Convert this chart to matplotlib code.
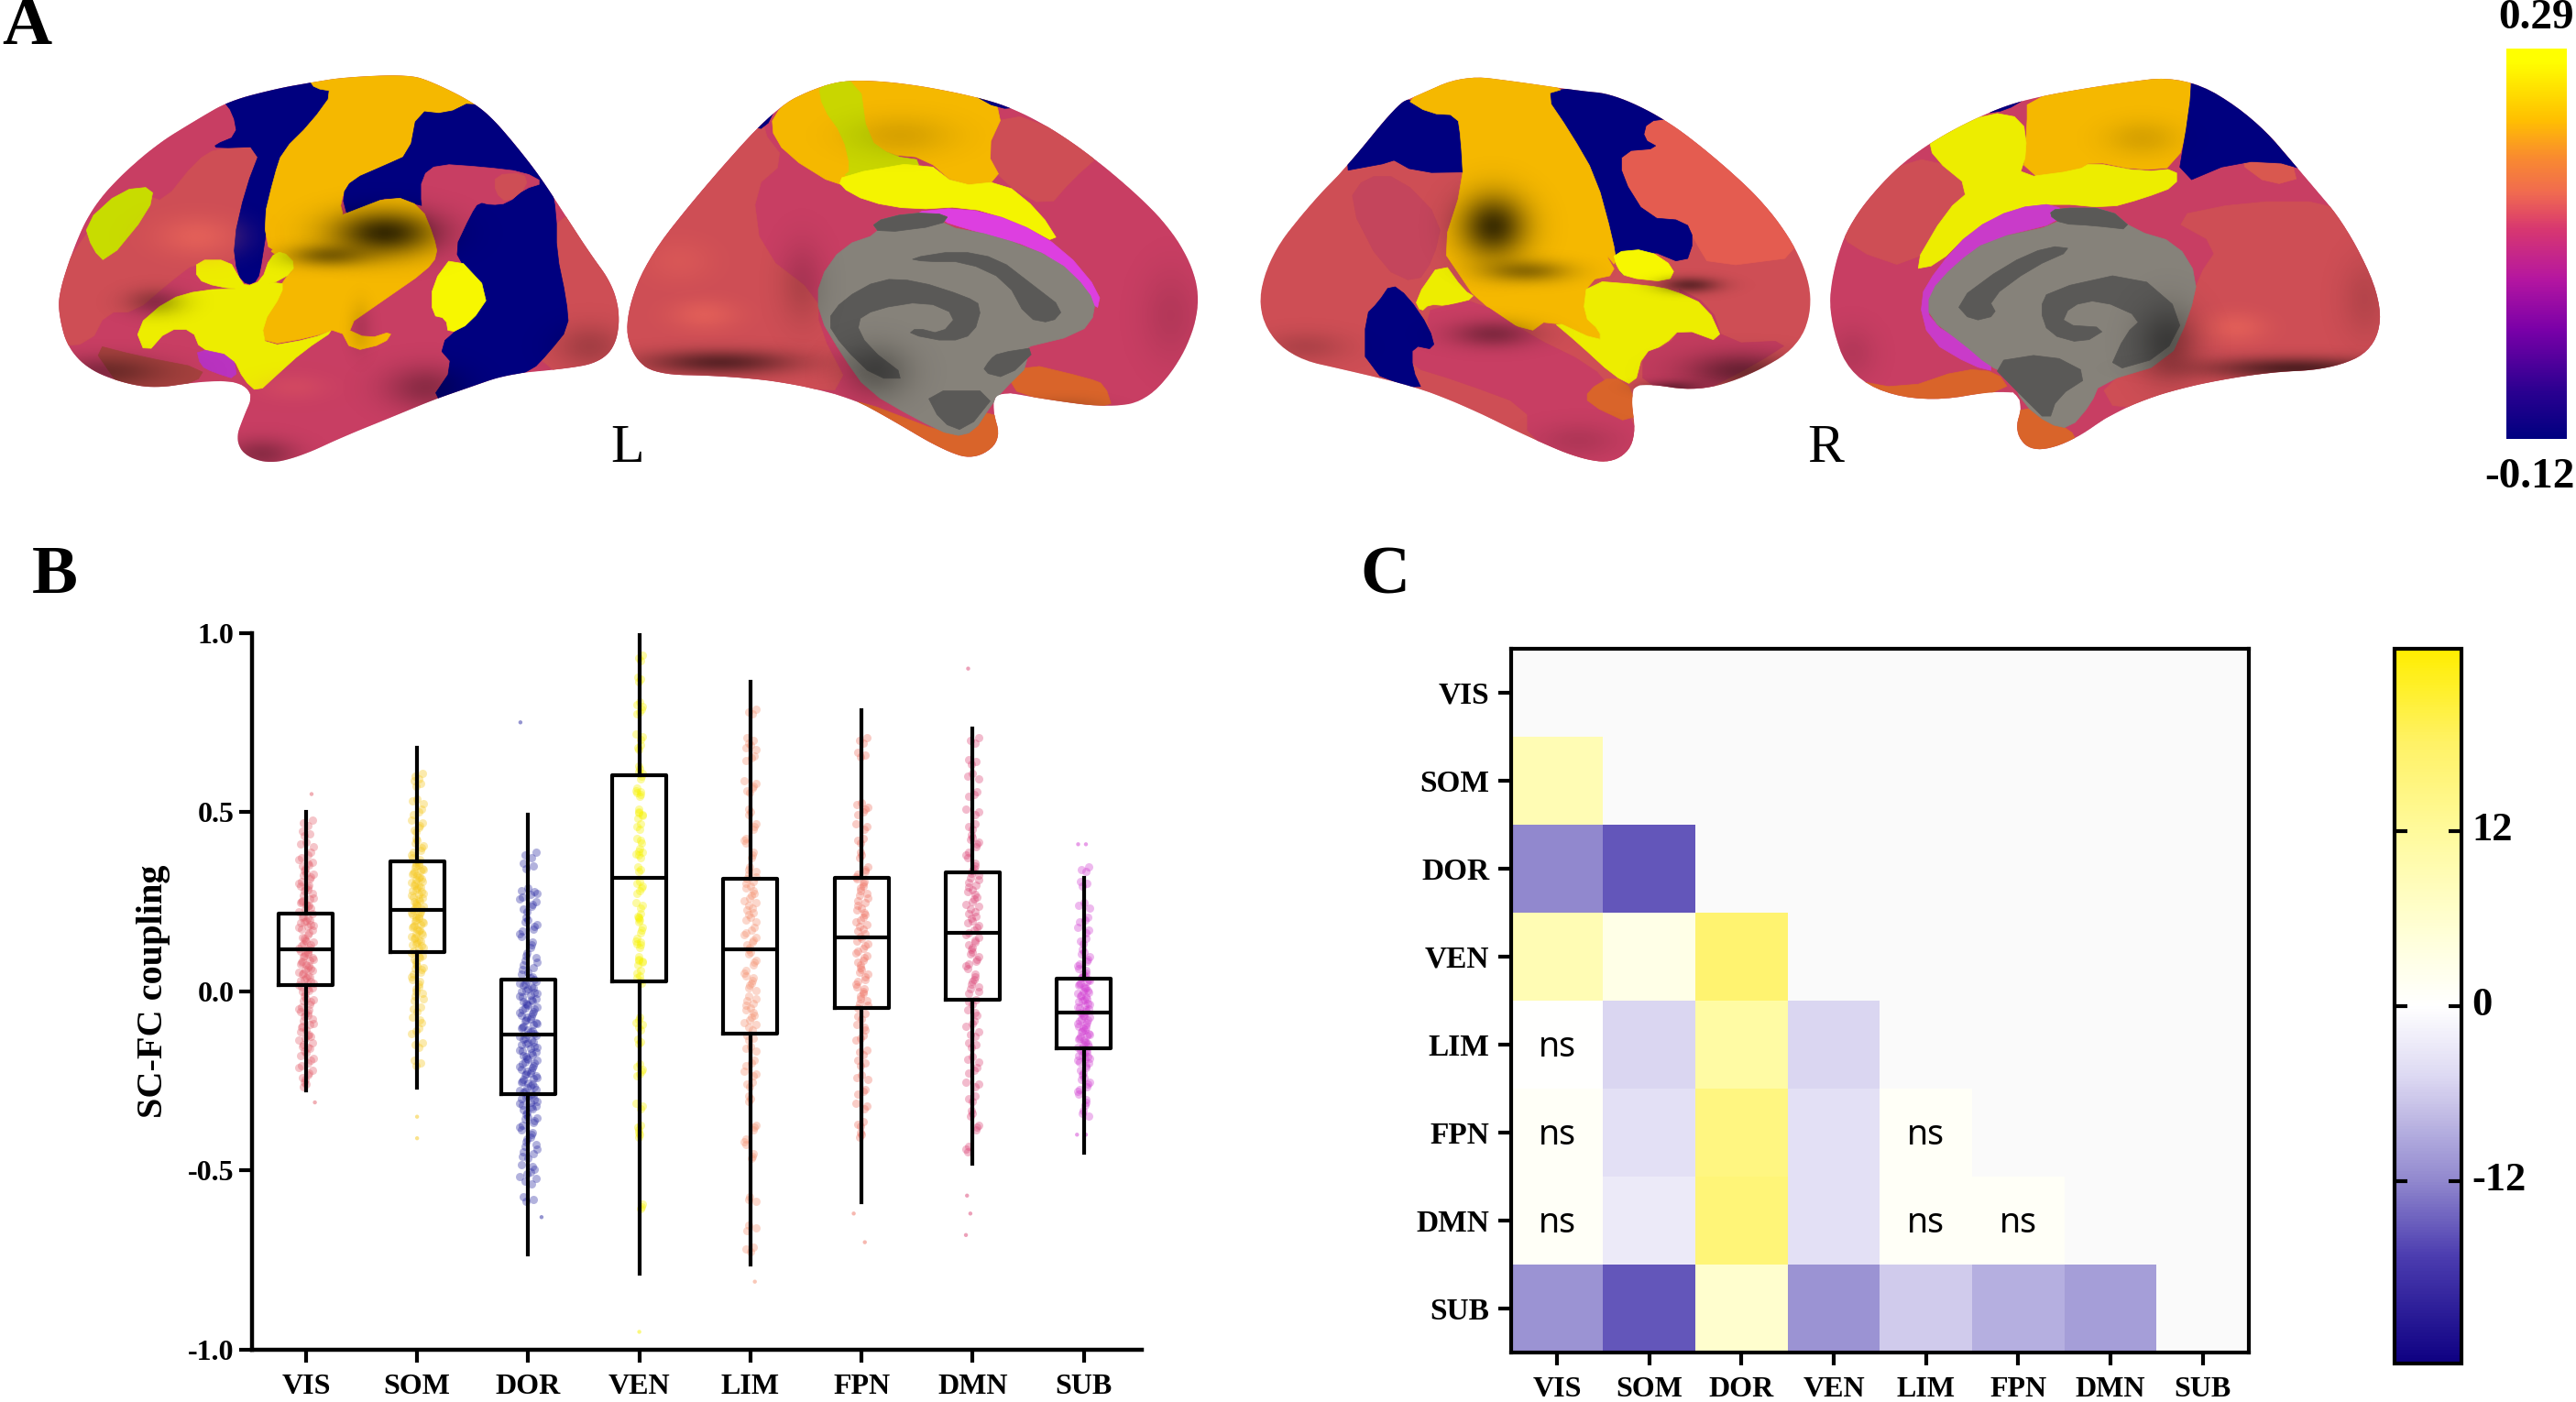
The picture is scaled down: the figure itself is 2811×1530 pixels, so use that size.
import matplotlib
matplotlib.use('Agg')
import matplotlib.pyplot as plt
import numpy as np
from matplotlib.colors import LinearSegmentedColormap, Normalize, to_rgb
from matplotlib.cm import ScalarMappable
from matplotlib.patches import Polygon
from matplotlib.transforms import ScaledTranslation

SERIF = ['Liberation Serif', 'DejaVu Serif']
W, H = 2811, 1530

networks = ['VIS', 'SOM', 'DOR', 'VEN', 'LIM', 'FPN', 'DMN', 'SUB']

# panel B, boxes
box_q3 = [0.217, 0.362, 0.033, 0.603, 0.313, 0.316, 0.332, 0.035]
box_q1 = [0.018, 0.108, -0.288, 0.028, -0.119, -0.047, -0.024, -0.160]
box_med = [0.116, 0.227, -0.122, 0.316, 0.118, 0.150, 0.163, -0.060]
whisk_hi = [0.500, 0.680, 0.492, 0.993, 0.862, 0.783, 0.733, 0.316]
whisk_lo = [-0.277, -0.270, -0.735, -0.787, -0.763, -0.589, -0.482, -0.450]
point_colors = ['#E4606C', '#F6C71C', '#2B2BA3', '#F7F200', '#F59272', '#EF7263', '#DB4475', '#D23FD2']
point_spread = [0.7, 0.6, 0.9, 0.3, 0.6, 0.6, 0.65, 0.6]

vis_points = [.47, .44, .41, .38, .36, .35, .33, .32, .30, .29, .28, .26, .25, .24, .23, .21, .20, .19, .18,
              .17, .15, .14, .13, .12, .11, .10, .09, .08, .07, .06, .05, .04, .03, .02, .01, 0, -.02, -.03, -.05,
              -.06, -.07, -.09, -.10, -.12, -.13, -.15, -.16, -.18, -.20, -.22, -.24, -.26]
som_points = [.60, .58, .53, .50, .47, .45, .42, .40, .38, .36, .35, .34, .33, .32, .31, .30, .29, .28, .27, .26,
              .25, .24, .23, .22, .21, .20, .19, .18, .17, .16, .15, .14, .13, .12, .10, .09, .07, .06, .04, .02,
              0, -.02, -.05, -.08, -.11, -.15, -.20]
dor_points = [.38, .35, .28, .27, .25, .23, .20, .18, .16, .13, .10, .08, .06, .04, .03, .02, .01, 0, -.01,
              -.02, -.03, -.04, -.05, -.06, -.07, -.08, -.09, -.10, -.11, -.12, -.13, -.14, -.15, -.16, -.17,
              -.18, -.19, -.20, -.21, -.22, -.23, -.24, -.25, -.26, -.27, -.28, -.29, -.30, -.31, -.32, -.33,
              -.35, -.36, -.38, -.40, -.42, -.44, -.46, -.49, -.51, -.53, -.58]
ven_points = [.93, .87, .80, .78, .71, .68, .62, .60, .56, .55, .50, .49, .46, .42, .39, .38, .34, .30, .28, .24,
              .21, .20, .17, .14, .13, .09, .08, .05, .03, -.08, -.10, -.14, -.21, -.23, -.32, -.38, -.40, -.60]
lim_points = [.78, .70, .68, .65, .58, .56, .50, .46, .42, .38, .34, .32, .30, .28, .26, .24, .22, .20, .17, .15,
              .13, .11, .08, .05, .03, .01, -.02, -.04, -.06, -.08, -.10, -.13, -.16, -.20, -.23, -.26, -.30,
              -.38, -.42, -.46, -.58, -.66, -.72]
fpn_points = [.70, .66, .52, .50, .46, .42, .38, .34, .32, .30, .28, .26, .24, .22, .20, .18, .16, .14, .12, .10,
              .08, .06, .04, .02, 0, -.02, -.04, -.07, -.10, -.13, -.17, -.20, -.24, -.28, -.32, -.37, -.40]
dmn_points = [.70, .64, .60, .55, .50, .46, .43, .41, .38, .35, .33, .31, .29, .27, .25, .23, .21, .19, .17,
              .15, .13, .11, .09, .07, .04, .02, 0, -.03, -.06, -.09, -.12, -.15, -.19, -.22, -.26, -.30, -.34,
              -.38, -.44]
sub_points = [.34, .30, .24, .20, .17, .14, .11, .09, .07, .05, .04, .03, .02, .01, 0, -.01, -.02, -.03,
              -.04, -.05, -.06, -.07, -.08, -.09, -.10, -.11, -.12, -.13, -.14, -.15, -.16, -.17, -.18, -.19,
              -.20, -.22, -.24, -.26, -.28, -.31, -.34]
all_points = [vis_points, som_points, dor_points, ven_points, lim_points, fpn_points, dmn_points, sub_points]
# faint single dots away from the column, (network index, value, x offset)
stray_idx = [0, 0, 1, 1, 2, 2, 3, 4, 5, 5, 6, 6, 6, 6, 7, 7, 7, 7]
stray_val = [.55, -.31, -.35, -.41, .75, -.63, -.95, -.81, -.62, -.70, .90, -.57, -.62, -.68, .41, .41, -.40, -.40]
stray_off = [.05, .08, 0, 0, -.07, .12, 0, .04, -.07, .03, -.04, -.05, -.02, -.06, -.05, .02, -.06, .02]
jitter = [-.03, .05, -.07, .02, .08, -.05, 0, .06, -.09, .03, -.02, .09, -.06, .04, -.01]

# panel C, lower triangle, one row per network
t_rows = [
    [],
    [9],
    [-12, -15.5],
    [9, 3, 17],
    [0, -5, 11, -5],
    [1, -4, 15, -4, 1],
    [1, -2.5, 16, -4, 1, 1],
    [-11, -15.5, 6, -11, -6, -8.5, -10],
]
ns_cells = [(4, 0), (5, 0), (6, 0), (5, 4), (6, 4), (6, 5)]
t_ticks = [-12, 0, 12]

# brain outlines and regions, in crop coordinates of the two upper crops
L_SCALE = (0.893, 0.344, 0)
R_SCALE = (0.932, 0.344, 1350)
PINK, CORAL, SALMON = '#C83E63', '#CE4E55', '#EB5F54'
NAVY, GOLD, YEL = '#00007F', '#F5B800', '#EDED00'
MAG, ORANGE, GREY, SULC = '#DD3FE0', '#D9642A', '#86827A', '#5A5957'

lat_left_outline = [(380, 262), (420, 245), (500, 236), (530, 262), (575, 320), (600, 370), (630, 460), (660, 560),
                    (690, 680), (720, 800), (748, 900), (758, 1000), (752, 1100), (730, 1152), (690, 1170), (620, 1187),
                    (570, 1232), (530, 1268), (480, 1322), (420, 1385), (370, 1445), (330, 1472), (298, 1445),
                    (288, 1390), (298, 1320), (308, 1260), (300, 1225), (280, 1208), (240, 1212), (190, 1232),
                    (150, 1215), (108, 1172), (82, 1100), (72, 1000), (72, 930), (88, 800), (108, 680), (138, 580),
                    (190, 460), (240, 380), (280, 320), (340, 280)]
lat_left_regions = [
    (PINK, lat_left_outline),
    (CORAL, [(265, 470), (320, 465), (300, 600), (285, 770), (290, 830), (240, 830), (205, 900), (165, 990), (130, 990),
             (110, 1090), (60, 1100), (60, 930), (90, 800), (120, 690), (180, 620), (200, 640), (240, 510)]),
    ('#A8423F', [(110, 1090), (150, 1240), (190, 1240), (240, 1212), (250, 1170), (170, 1130)]),
    (CORAL, [(680, 680), (730, 700), (770, 1000), (760, 1180), (650, 1175), (695, 1040), (690, 950), (680, 800)]),
    (NAVY, [(270, 310), (378, 255), (385, 280), (408, 290), (380, 390), (345, 480), (335, 560), (320, 830), (315, 890),
            (302, 905), (290, 870), (285, 770), (300, 600), (320, 465), (265, 470), (262, 460), (290, 430), (285, 360)]),
    (GOLD, [(378, 255), (420, 235), (500, 230), (530, 255), (590, 320), (545, 362), (510, 352), (500, 490), (470, 525),
            (430, 570), (415, 640), (420, 690), (400, 720), (380, 790), (330, 810), (322, 700), (335, 560), (345, 480),
            (380, 390), (408, 290), (385, 280)]),
    (NAVY, [(578, 320), (610, 370), (640, 460), (672, 565), (680, 680), (680, 800), (692, 950), (695, 1040), (670, 1120),
            (650, 1175), (620, 1195), (570, 1240), (525, 1275), (555, 1160), (535, 1100), (570, 1020), (595, 930),
            (570, 860), (555, 790), (575, 680), (515, 655), (480, 620), (440, 660), (425, 690), (418, 620), (430, 570),
            (470, 525), (500, 490), (510, 352), (545, 362)]),
    (PINK, [(515, 560), (535, 520), (590, 530), (640, 545), (665, 580), (640, 600), (620, 645), (600, 650), (585, 640),
            (575, 680), (555, 790), (535, 810), (520, 700), (515, 655)]),
    (CORAL, [(605, 555), (640, 548), (645, 590), (620, 645), (605, 610)]),
    (GOLD, [(322, 780), (420, 680), (480, 620), (515, 655), (530, 750), (535, 810), (520, 860), (470, 950), (420, 1040),
            (450, 1075), (480, 1050), (470, 1090), (430, 1115), (415, 1040), (380, 1070), (325, 1095), (320, 1030),
            (340, 930), (345, 895), (360, 850)]),
    (YEL, [(205, 950), (245, 920), (300, 915), (345, 890), (345, 930), (320, 1030), (325, 1100), (380, 1075), (412, 1042),
           (370, 1115), (338, 1190), (315, 1245), (298, 1205), (285, 1135), (245, 1110), (235, 1045), (205, 1045),
           (178, 1125), (165, 1040)]),
    (YEL, [(240, 825), (280, 825), (292, 880), (300, 910), (320, 890), (330, 815), (345, 795), (362, 840), (348, 885),
           (305, 920), (265, 910), (240, 885)]),
    ('#F7F700', [(555, 805), (600, 930), (575, 1025), (548, 1060), (545, 1010), (528, 1000), (528, 900)]),
    ('#C8DC00', [(148, 603), (188, 592), (182, 670), (130, 835), (113, 790), (103, 710)]),
    ('#B933C0', [(240, 1105), (285, 1130), (290, 1205), (260, 1180), (245, 1160)]),
]
lat_left_shades = [(470, 740, 90, 100, .78), (400, 810, 70, 50, .45), (240, 750, 70, 90, -.5), (190, 960, 50, 60, .3),
                   (130, 1180, 100, 70, .35), (320, 1440, 60, 70, .3), (520, 1230, 70, 100, .3), (720, 1100, 60, 100, .2),
                   (360, 1230, 60, 60, -.2), (440, 1040, 20, 110, .12)]

med_left_outline = [(1000, 275), (1040, 252), (1110, 265), (1190, 305), (1240, 345), (1300, 430), (1370, 570), (1430, 720),
                    (1462, 870), (1465, 1000), (1442, 1150), (1400, 1275), (1350, 1292), (1280, 1268), (1220, 1240),
                    (1212, 1290), (1224, 1400), (1190, 1460), (1150, 1425), (1085, 1325), (1040, 1262), (960, 1212),
                    (880, 1192), (800, 1188), (773, 1130), (763, 1020), (788, 830), (858, 600), (948, 340)]
med_left_regions = [
    (PINK, med_left_outline),
    (CORAL, [(930, 410), (960, 510), (920, 600), (930, 800), (1000, 940), (1000, 1040), (1040, 1240), (960, 1230),
             (880, 1210), (790, 1200), (750, 1130), (750, 1020), (770, 830), (850, 600), (940, 340)]),
    (CORAL, [(1225, 350), (1310, 430), (1345, 490), (1310, 570), (1280, 660), (1225, 580), (1205, 480)]),
    (GOLD, [(990, 265), (1040, 245), (1110, 255), (1190, 295), (1228, 350), (1205, 480), (1225, 575), (1170, 590),
            (1130, 500), (1085, 490), (1060, 440), (1040, 500), (1040, 560), (1025, 595), (960, 490), (940, 400), (955, 335)]),
    ('#C9D600', [(1000, 265), (1050, 250), (1060, 440), (1090, 495), (1130, 510), (1100, 560), (1030, 560), (1040, 540),
                 (1030, 430), (1005, 340)]),
    ('#F4F400', [(1030, 555), (1130, 510), (1170, 590), (1225, 575), (1270, 670), (1297, 780), (1240, 700), (1180, 655),
                 (1115, 665), (1060, 640), (1025, 590)]),
    (MAG, [(1110, 675), (1175, 658), (1240, 700), (1300, 790), (1345, 930), (1340, 990), (1300, 860), (1270, 790),
           (1180, 725), (1150, 700), (1160, 680)]),
    (ORANGE, [(1250, 1150), (1330, 1200), (1350, 1220), (1360, 1300), (1280, 1275), (1230, 1230)]),
    (ORANGE, [(1210, 1290), (1235, 1400), (1190, 1470), (1140, 1420), (1075, 1320), (1040, 1260), (1165, 1385), (1190, 1370)]),
    (NAVY, [(1185, 295), (1250, 340), (1220, 345)]),
    (NAVY, [(950, 330), (935, 410), (915, 400)]),
    (GREY, [(1065, 705), (1110, 675), (1160, 680), (1150, 715), (1220, 750), (1290, 820), (1330, 920), (1340, 990),
            (1320, 1060), (1240, 1110), (1260, 1150), (1225, 1240), (1210, 1290), (1190, 1370), (1165, 1385), (1120, 1330),
            (1060, 1240), (1030, 1130), (1000, 1000), (1000, 890), (1030, 780), (1075, 740)]),
    (SULC, [(1065, 705), (1110, 675), (1160, 680), (1150, 715), (1075, 740)]),
    (SULC, [(1110, 820), (1170, 795), (1220, 820), (1260, 900), (1300, 980), (1285, 1025), (1255, 1010), (1230, 890),
            (1180, 830), (1130, 830)]),
    (SULC, [(1030, 950), (1075, 885), (1120, 890), (1180, 940), (1200, 970), (1190, 1060), (1160, 1085), (1110, 1060),
            (1120, 1040), (1150, 1060), (1170, 1000), (1130, 955), (1070, 980), (1045, 1020), (1060, 1100), (1110, 1200),
            (1070, 1200), (1030, 1100), (1010, 1020)]),
    (SULC, [(1220, 1120), (1270, 1100), (1230, 1200), (1200, 1180), (1210, 1140)]),
    (SULC, [(1130, 1240), (1220, 1240), (1180, 1370), (1150, 1340)]),
]
med_left_shades = [(880, 1150, 130, 55, .55), (860, 1000, 60, 70, -.45), (980, 900, 40, 180, .15), (1070, 1180, 60, 120, .3),
                   (1100, 430, 90, 90, .12), (1430, 1000, 50, 200, .1), (830, 830, 60, 100, -.25), (1300, 1290, 70, 40, .15)]

lat_right_outline = [(205, 310), (265, 238), (330, 260), (400, 288), (440, 298), (500, 375), (560, 500), (620, 650),
                     (660, 810), (675, 960), (658, 1100), (600, 1192), (540, 1242), (475, 1215), (460, 1240), (468, 1400),
                     (442, 1470), (400, 1455), (340, 1385), (270, 1292), (210, 1228), (140, 1182), (58, 1132), (22, 990),
                     (38, 810), (88, 640), (128, 530), (188, 330)]
lat_right_regions = [
    (CORAL, lat_right_outline),
    ('#C4455C', [(150, 560), (130, 640), (170, 850), (210, 900), (230, 820), (240, 700), (190, 560)]),
    ('#E45C50', [(480, 390), (510, 365), (570, 500), (620, 650), (670, 810), (555, 850), (535, 760), (525, 700), (480, 690),
                 (450, 560), (450, 480), (495, 470), (475, 440)]),
    ('#C23C5E', [(505, 900), (555, 970), (570, 1090), (650, 1080), (610, 1150), (540, 1250), (475, 1225), (475, 1120),
                 (505, 1095), (520, 1040), (570, 1090)]),
    (NAVY, [(185, 320), (205, 315), (225, 360), (258, 365), (262, 440), (272, 520), (310, 510), (330, 560), (330, 595),
            (280, 545), (210, 548), (175, 495), (190, 510), (110, 550)]),
    (NAVY, [(360, 300), (385, 280), (400, 285), (450, 295), (510, 375), (480, 385), (475, 440), (495, 470), (450, 480),
            (450, 560), (480, 690), (525, 700), (535, 760), (525, 840), (480, 790), (465, 850), (455, 880), (445, 850),
            (440, 760), (420, 560), (390, 420)]),
    (GOLD, [(195, 310), (265, 230), (330, 252), (385, 280), (360, 300), (390, 420), (420, 560), (440, 760), (445, 850),
            (430, 800), (445, 870), (410, 890), (405, 1000), (425, 1050), (425, 1085), (365, 1010), (340, 1060), (280, 950),
            (260, 870), (240, 790), (265, 580), (262, 440), (258, 365), (225, 360)]),
    (YEL, [(410, 890), (480, 905), (510, 920), (550, 970), (570, 1090), (520, 1040), (500, 1095), (475, 1120), (465, 1225),
           (440, 1190), (400, 1090), (365, 1010), (425, 1085), (425, 1050), (405, 1000)]),
    ('#F7F700', [(440, 800), (480, 790), (513, 850), (505, 895), (455, 880), (445, 850)]),
    (YEL, [(240, 825), (265, 920), (280, 945), (245, 970), (225, 965), (215, 990), (208, 950)]),
    (PINK, [(220, 990), (245, 970), (280, 950), (340, 1060), (415, 1160), (440, 1240), (465, 1350), (475, 1400), (450, 1475),
            (400, 1460), (340, 1390), (340, 1290), (260, 1210), (200, 1160), (205, 1095), (232, 1110)]),
    (ORANGE, [(410, 1240), (440, 1190), (465, 1240), (465, 1350), (410, 1280)]),
    (NAVY, [(180, 900), (200, 940), (225, 1040), (232, 1110), (205, 1095), (205, 1170), (218, 1245), (150, 1175), (150, 1000),
            (165, 960)]),
]
lat_right_shades = [(300, 720, 55, 140, .75), (340, 860, 70, 50, .4), (530, 905, 50, 35, .5), (300, 1060, 70, 60, .35),
                    (590, 1180, 90, 80, .45), (80, 1100, 70, 70, .15), (400, 1400, 70, 80, .12), (510, 1230, 50, 30, .4)]

med_right_outline = [(880, 355), (930, 310), (1020, 268), (1110, 238), (1190, 370), (1250, 560), (1300, 720), (1342, 960),
                     (1332, 1110), (1280, 1172), (1200, 1182), (1100, 1232), (1030, 1302), (975, 1405), (930, 1435),
                     (910, 1370), (920, 1280), (905, 1232), (800, 1280), (718, 1205), (692, 1000), (698, 850), (718, 700),
                     (768, 540), (818, 440)]
med_right_regions = [
    (PINK, med_right_outline),
    (CORAL, [(1125, 880), (1090, 1150), (1010, 1215), (1030, 1310), (1100, 1240), (1200, 1190), (1280, 1180), (1345, 1110),
             (1350, 960), (1310, 720), (1280, 640), (1180, 640), (1090, 690), (1150, 780)]),
    (CORAL, [(815, 495), (860, 600), (830, 680), (790, 855), (720, 790), (700, 700), (760, 540)]),
    ('#D9584F', [(1190, 370), (1250, 560), (1210, 590), (1170, 510)]),
    (GOLD, [(925, 310), (1020, 260), (1115, 230), (1118, 350), (1100, 530), (1055, 540), (1000, 510), (985, 545), (920, 565),
            (925, 400)]),
    (YEL, [(810, 440), (880, 355), (920, 375), (925, 480), (915, 565), (985, 540), (1000, 515), (1060, 545), (1100, 535),
           (1100, 590), (1060, 630), (1020, 660), (960, 645), (910, 660), (860, 730), (820, 840), (790, 855), (830, 670),
           (860, 600), (815, 500)]),
    (NAVY, [(1118, 235), (1200, 370), (1260, 580), (1240, 520), (1170, 510), (1100, 590), (1115, 350)]),
    (NAVY, [(875, 360), (925, 310), (900, 350)]),
    ('#C93BC9', [(910, 660), (960, 645), (970, 700), (880, 760), (840, 840), (810, 940), (810, 1020), (860, 1100), (890, 1180),
                 (860, 1160), (810, 1080), (798, 950), (820, 850), (860, 730)]),
    (ORANGE, [(920, 1280), (950, 1345), (975, 1360), (985, 1410), (930, 1445), (900, 1370)]),
    (ORANGE, [(710, 1200), (780, 1235), (850, 1170), (890, 1180), (905, 1240), (800, 1290), (745, 1260)]),
    (GREY, [(960, 660), (1020, 660), (1050, 730), (1100, 770), (1125, 880), (1115, 1000), (1090, 1150), (1010, 1215),
            (1000, 1280), (975, 1360), (950, 1345), (920, 1280), (905, 1190), (880, 1160), (850, 1090), (810, 1010), (810, 930),
            (840, 840), (880, 760), (965, 710), (950, 680)]),
    (SULC, [(960, 660), (1020, 660), (1050, 730), (1000, 715), (965, 710), (950, 680)]),
    (SULC, [(900, 840), (950, 780), (980, 790), (930, 850), (880, 950), (890, 1000), (860, 1020), (840, 960)]),
    (SULC, [(950, 920), (1050, 860), (1110, 1000), (1085, 1130), (1020, 1180), (1040, 1060), (1060, 1010), (1010, 950),
            (975, 970), (965, 1030), (1020, 1040), (990, 1090), (950, 1060), (940, 980)]),
    (SULC, [(880, 1150), (950, 1120), (1000, 1190), (960, 1260), (950, 1340), (920, 1260)]),
]
med_right_shades = [(1240, 1170, 150, 50, .6), (1170, 1040, 50, 70, -.45), (1090, 1090, 50, 160, .35), (1060, 440, 60, 80, .12),
                    (720, 1120, 40, 120, .1), (1320, 950, 40, 180, .12)]

brain_cmap = LinearSegmentedColormap.from_list('brain', [
    (0, '#000080'), (.12, '#2A0090'), (.28, '#7A00A8'), (.41, '#B516A0'), (.54, '#D8386F'), (.63, '#F06A50'),
    (.72, '#F98A30'), (.82, '#FFC000'), (.97, '#FFFF00'), (1, '#FFFF00')])
t_cmap = LinearSegmentedColormap.from_list('tvals', [
    (0, '#0E0082'), (.15, '#4C3DB0'), (.255, '#9188CE'), (.40, '#DCD8F2'), (.5, '#FFFFFF'),
    (.60, '#FFFFD8'), (.745, '#FFFA9C'), (.87, '#FFF266'), (1, '#FFEE00')])


def px_axes(left, top, right, bottom):
    return fig.add_axes([left / W, 1 - bottom / H, (right - left) / W, (bottom - top) / H])


def smooth(pts, rounds=2):
    pts = np.asarray(pts, dtype=float)
    for _ in range(rounds):
        nxt = np.roll(pts, -1, axis=0)
        pts = np.column_stack([.75 * pts + .25 * nxt, .25 * pts + .75 * nxt]).reshape(-1, 2)
    return pts


def to_px(pts, scale):
    pts = np.asarray(pts, dtype=float)
    return np.column_stack([scale[2] + pts[:, 0] * scale[0], pts[:, 1] * scale[1]])


def draw_brain(ax, outline, regions, shades, scale):
    clip = Polygon(to_px(smooth(outline, 3), scale), closed=True, fc='none', ec='none')
    ax.add_patch(clip)
    for color, pts in regions:
        p = Polygon(to_px(smooth(pts, 1), scale), closed=True, fc=color, ec=color, lw=.5)
        ax.add_patch(p)
        p.set_clip_path(clip)
    # soft light and shadow on the surface
    u = np.linspace(-1.8, 1.8, 64)
    d2 = u[None, :] ** 2 + u[:, None] ** 2
    for cx, cy, rx, ry, amount in shades:
        c = to_px([(cx, cy)], scale)[0]
        rgb = (0, 0, 0) if amount > 0 else to_rgb('#F7705C')
        rgba = np.zeros((64, 64, 4))
        rgba[..., :3] = rgb
        rgba[..., 3] = abs(amount) * np.exp(-2 * d2)
        hw, hh = 1.8 * rx * scale[0], 1.8 * ry * scale[1]
        im = ax.imshow(rgba, extent=(c[0] - hw, c[0] + hw, c[1] + hh, c[1] - hh), aspect='auto', zorder=1.5,
                       interpolation='bilinear')
        im.set_clip_path(clip)


fig = plt.figure(figsize=(W / 100, H / 100), dpi=100)
bg = fig.add_axes([0, 0, 1, 1])

draw_brain(bg, lat_left_outline, lat_left_regions, lat_left_shades, L_SCALE)
draw_brain(bg, med_left_outline, med_left_regions, med_left_shades, L_SCALE)
draw_brain(bg, lat_right_outline, lat_right_regions, lat_right_shades, R_SCALE)
draw_brain(bg, med_right_outline, med_right_regions, med_right_shades, R_SCALE)
bg.set_xlim(0, W)
bg.set_ylim(H, 0)
bg.axis('off')

bg.text(29, 30, 'A', family=SERIF, weight='bold', fontsize=54, ha='center', va='center')
bg.text(60, 629, 'B', family=SERIF, weight='bold', fontsize=54, ha='center', va='center')
bg.text(1511, 629, 'C', family=SERIF, weight='bold', fontsize=54, ha='center', va='center')
bg.text(684, 490, 'L', family=SERIF, fontsize=43, ha='center', va='center')
bg.text(1992, 490, 'R', family=SERIF, fontsize=43, ha='center', va='center')
bg.text(2768, 20, '0.29', family=SERIF, weight='bold', fontsize=34, ha='center', va='center')
bg.text(2760, 521, '-0.12', family=SERIF, weight='bold', fontsize=34, ha='center', va='center')

# brain colour bar
cax_brain = px_axes(2735, 53, 2801, 479)
cb0 = fig.colorbar(ScalarMappable(Normalize(-0.12, 0.29), brain_cmap), cax=cax_brain)
cb0.set_ticks([])
cb0.outline.set_visible(False)

# panel B
axb = px_axes(274.5, 690.5, 1245.6, 1473)
axb.set_xlim(-0.49, 7.52)
axb.set_ylim(-1, 1)
for i, vals in enumerate(all_points):
    for shift, nudge in ((0, 0), (4, .007), (9, -.007)):
        xs = [i + point_spread[i] * jitter[(j + shift) % len(jitter)] for j in range(len(vals))]
        axb.scatter(xs, [v + nudge for v in vals], s=42, color=point_colors[i], alpha=.36, linewidths=0, zorder=2)
axb.scatter([i + o for i, o in zip(stray_idx, stray_off)], stray_val, s=10, alpha=.5, linewidths=0, zorder=2,
            color=[point_colors[i] for i in stray_idx])
stats = [{'med': box_med[i], 'q1': box_q1[i], 'q3': box_q3[i], 'whislo': whisk_lo[i], 'whishi': whisk_hi[i], 'fliers': []}
         for i in range(len(networks))]
axb.bxp(stats, positions=range(len(networks)), widths=.487, showcaps=False, showfliers=False,
        boxprops=dict(lw=3, color='black'), medianprops=dict(lw=3, color='black'), whiskerprops=dict(lw=3, color='black'),
        zorder=3)
axb.set_xlim(-0.49, 7.52)
axb.set_xticks(range(len(networks)))
axb.set_xticklabels(networks, family=SERIF, weight='bold', fontsize=23)
axb.set_yticks([-1, -.5, 0, .5, 1])
axb.set_yticklabels(['-1.0', '-0.5', '0.0', '0.5', '1.0'], family=SERIF, weight='bold', fontsize=23)
axb.tick_params(width=3, length=10)
axb.tick_params(axis='x', pad=9)
axb.spines['top'].set_visible(False)
axb.spines['right'].set_visible(False)
axb.spines['left'].set_linewidth(3.2)
axb.spines['bottom'].set_linewidth(3.2)
axb.patch.set_alpha(0)
axb.set_ylabel('SC-FC coupling', family=SERIF, weight='bold', fontsize=29, labelpad=14)

# panel C
n = len(networks)
t_matrix = np.full((n, n), np.nan)
for r, row in enumerate(t_rows):
    t_matrix[r, :len(row)] = row
axc = px_axes(1648.8, 708, 2454, 1476)
axc.set_facecolor('#FAFAFA')
mesh = axc.pcolormesh(np.arange(n + 1) - .5, np.arange(n + 1) - .5, t_matrix, cmap=t_cmap, vmin=-24.5, vmax=24.5)
axc.set_ylim(n - .5, -.5)
axc.set_xticks(range(n))
axc.set_yticks(range(n))
axc.set_xticklabels(networks, family=SERIF, weight='bold', fontsize=23)
axc.set_yticklabels(networks, family=SERIF, weight='bold', fontsize=24)
axc.tick_params(width=3, length=10)
axc.tick_params(axis='x', pad=9)
axc.tick_params(axis='y', pad=7)
for s in axc.spines.values():
    s.set_linewidth(3)
for r, c in ns_cells:
    axc.text(c, r + .03, 'ns', family='Noto Sans', fontsize=27, ha='center', va='center')

cax = px_axes(2613, 708, 2686, 1488)
cb = fig.colorbar(mesh, cax=cax)
cb.set_ticks(t_ticks)
cb.set_ticklabels(['-12', '0', '12'], family=SERIF, weight='bold', fontsize=32)
cax.yaxis.set_ticks_position('both')
cax.tick_params(direction='in', width=3, length=10, right=True, left=True, labelright=True, labelleft=False, pad=8)
cb.outline.set_linewidth(3)
lift = ScaledTranslation(0, 4 / 72, fig.dpi_scale_trans)
for lbl in cax.get_yticklabels():
    lbl.set_transform(lbl.get_transform() + lift)

fig.savefig('out.png', dpi=100)
